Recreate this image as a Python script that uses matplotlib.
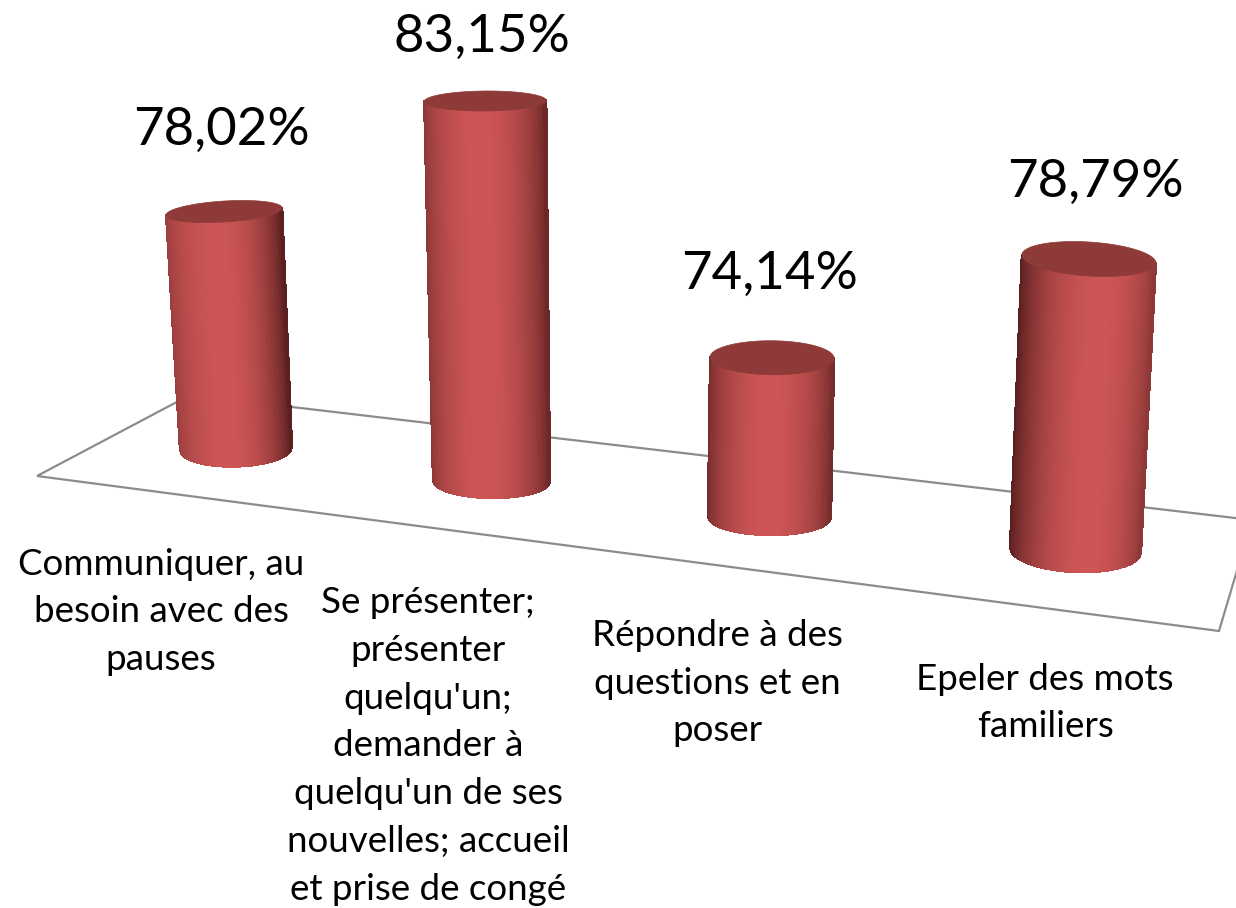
import numpy as np
import matplotlib
matplotlib.use("Agg")
import matplotlib.pyplot as plt
from matplotlib.collections import PolyCollection
from matplotlib.patches import Polygon

plt.rcParams['font.family'] = ['Lato', 'DejaVu Sans']

# Data
categories = ["Communiquer, au\nbesoin avec des\npauses",
              "Se présenter;\nprésenter\nquelqu'un;\ndemander à\nquelqu'un de ses\nnouvelles; accueil\net prise de congé",
              "Répondre à des\nquestions et en\nposer",
              "Epeler des mots\nfamiliers"]
values = [78.02, 83.15, 74.14, 78.79]
value_labels = ["78,02%", "83,15%", "74,14%", "78,79%"]

# Layout: projected geometry of the 3D scene, in figure pixels
AXIS_BASE = 68.13
base_x = [236, 491.5, 769.5, 1075.5]
base_y = [448.5, 481, 517, 550]
depth_scale = [23.96, 25.3, 26.5, 27.3]
lean = [-0.050, -0.0165, 0.016, 0.046]
top_half = [58, 61, 62, 67]
bot_half = [56, 58.5, 61.5, 65.5]
top_minor = [10.5, 10, 17, 17]
bot_minor = [18, 17, 18, 22]
top_tilt = [-3.5, -0.5, 0.5, 4]
bot_tilt = [-1.5, 0.5, 0.5, 2.5]
shade_left = [0.72, 0.64, 0.52, 0.36]
shade_right = [0.36, 0.46, 0.52, 0.64]
highlight = [0.46, 0.46, 0.50, 0.60]
floor_x = [37, 190, 1252, 1219]
floor_y = [476, 395, 520, 631]
value_xy = [(222, 130), (482, 37), (770, 274), (1095, 182)]
label_xy = [(161, 612), (428, 746), (717, 683), (1045, 703)]

BODY = np.array([205, 85, 85]) / 255
CAP = np.array([142, 58, 56]) / 255
EDGE = np.array([70, 22, 22]) / 255

fig = plt.figure(figsize=(12.36, 9.08), dpi=100)
ax = fig.add_axes([0, 0, 1, 1])
ax.set_xlim(0, 1236)
ax.set_ylim(908, 0)
ax.axis('off')

ax.add_patch(Polygon(np.column_stack([floor_x, floor_y]), closed=True, fill=False,
                     edgecolor='#8c8c8c', linewidth=1.6, zorder=1))


def front(cx, cy, half, minor, tilt, u):
    s = 2 * u - 1
    return cx + s * half, cy + tilt * s + minor * np.sqrt(np.clip(1 - s * s, 0, 1))


for i, v in enumerate(values):
    h = (v - AXIS_BASE) * depth_scale[i]
    bx, by = base_x[i], base_y[i]
    tx, ty = bx + lean[i] * h, by - h
    n = 70
    us = np.linspace(0, 1, n + 1)
    polys, cols = [], []
    for a, b in zip(us[:-1], us[1:]):
        xa_t, ya_t = front(tx, ty, top_half[i], top_minor[i], top_tilt[i], a)
        xb_t, yb_t = front(tx, ty, top_half[i], top_minor[i], top_tilt[i], b)
        xa_b, ya_b = front(bx, by, bot_half[i], bot_minor[i], bot_tilt[i], a)
        xb_b, yb_b = front(bx, by, bot_half[i], bot_minor[i], bot_tilt[i], b)
        polys.append([(xa_t, ya_t), (xb_t, yb_t), (xb_b, yb_b), (xa_b, ya_b)])
        m = (a + b) / 2
        hl = highlight[i]
        if m < hl:
            f = shade_left[i] + (1 - shade_left[i]) * np.sin(m / hl * np.pi / 2) ** 0.65
        else:
            f = shade_right[i] + (1 - shade_right[i]) * np.cos((m - hl) / (1 - hl) * np.pi / 2) ** 0.65
        c = EDGE + (BODY - EDGE) * ((f - 0.3) / 0.7)
        cols.append(np.clip(c, 0, 1))
    ax.add_collection(PolyCollection(polys, facecolors=cols, edgecolors=cols,
                                     linewidths=1.0, antialiaseds=False, zorder=3))
    t = np.linspace(0, 2 * np.pi, 120)
    ex = tx + top_half[i] * np.cos(t)
    ey = ty + top_tilt[i] * np.cos(t) + top_minor[i] * np.sin(t)
    ax.add_patch(Polygon(np.column_stack([ex, ey]), closed=True, facecolor=CAP,
                         edgecolor=CAP, linewidth=0.5, zorder=4))
    ax.text(*value_xy[i], value_labels[i], ha='center', va='center',
            fontsize=38, color='black', zorder=5)
    ax.text(*label_xy[i], categories[i], ha='center', va='center', fontsize=26.5,
            color='black', linespacing=1.545, zorder=5)

fig.savefig('out.png', dpi=100)
